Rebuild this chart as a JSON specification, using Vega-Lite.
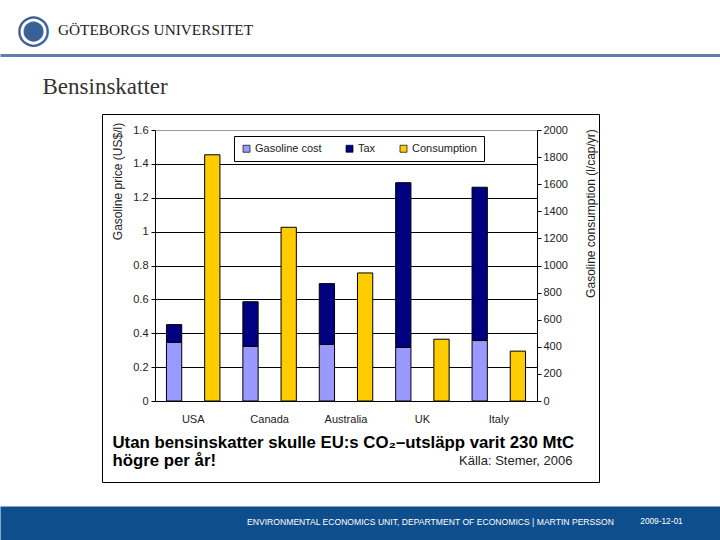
{
  "$schema": "https://vega.github.io/schema/vega-lite/v6.json",
  "width": 497,
  "height": 368,
  "autosize": "none",
  "padding": {"left": 102, "top": 114, "right": 121, "bottom": 58},
  "background": "white",
  "config": {
    "view": {"stroke": "black", "strokeWidth": 1},
    "font": "Liberation Sans",
    "axis": {"labelColor": "#222", "titleColor": "#222", "labelFont": "Liberation Sans", "titleFont": "Liberation Sans"}
  },
  "resolve": {"scale": {"x": "independent"}, "axis": {"x": "independent"}},
  "layer": [
    {
      "data": {
        "values": [
          {"country": "USA", "series": "Gasoline cost", "value": 0.347, "measure": "price"},
          {"country": "USA", "series": "Tax", "value": 0.104, "measure": "price"},
          {"country": "USA", "series": "Consumption", "value": 1817, "measure": "consumption"},
          {"country": "Canada", "series": "Gasoline cost", "value": 0.323, "measure": "price"},
          {"country": "Canada", "series": "Tax", "value": 0.263, "measure": "price"},
          {"country": "Canada", "series": "Consumption", "value": 1282, "measure": "consumption"},
          {"country": "Australia", "series": "Gasoline cost", "value": 0.335, "measure": "price"},
          {"country": "Australia", "series": "Tax", "value": 0.358, "measure": "price"},
          {"country": "Australia", "series": "Consumption", "value": 945, "measure": "consumption"},
          {"country": "UK", "series": "Gasoline cost", "value": 0.316, "measure": "price"},
          {"country": "UK", "series": "Tax", "value": 0.973, "measure": "price"},
          {"country": "UK", "series": "Consumption", "value": 456, "measure": "consumption"},
          {"country": "Italy", "series": "Gasoline cost", "value": 0.357, "measure": "price"},
          {"country": "Italy", "series": "Tax", "value": 0.905, "measure": "price"},
          {"country": "Italy", "series": "Consumption", "value": 368, "measure": "consumption"}
        ]
      },
      "resolve": {"scale": {"y": "independent"}, "axis": {"y": "independent"}},
      "encoding": {
        "x": {
          "field": "country",
          "type": "nominal",
          "sort": ["USA", "Canada", "Australia", "UK", "Italy"],
          "scale": {"range": [53, 435], "paddingInner": 0, "paddingOuter": 0},
          "axis": {
            "orient": "bottom",
            "offset": -81,
            "domainColor": "black",
            "ticks": false,
            "labelAngle": 0,
            "labelPadding": 12,
            "labelFontSize": 11,
            "title": ["Utan bensinskatter skulle EU:s CO₂–utsläpp varit 230 MtC", "högre per år!"],
            "titleFontSize": 16.8,
            "titleFontWeight": "bold",
            "titleColor": "black",
            "titleX": 10,
            "titleY": 46,
            "titleAlign": "left",
            "titleBaseline": "alphabetic",
            "titleLineHeight": 18
          }
        },
        "xOffset": {"field": "measure", "type": "nominal", "scale": {"domain": ["price", "consumption"], "paddingInner": 0.6, "paddingOuter": 0.3}}
      },
      "layer": [
        {
          "transform": [{"filter": "datum.measure == 'price'"}],
          "mark": {"type": "bar", "stroke": "black", "strokeWidth": 1},
          "encoding": {
            "y": {
              "field": "value",
              "type": "quantitative",
              "stack": "zero",
              "scale": {"domain": [0, 1.6], "range": [287, 16], "nice": false},
              "axis": {
                "orient": "left",
                "offset": -53,
                "values": [0, 0.2, 0.4, 0.6, 0.8, 1, 1.2, 1.4, 1.6],
                "format": "~g",
                "grid": true,
                "gridColor": {"condition": {"test": "datum.value >= 1.59", "value": "#999999"}, "value": "black"},
                "gridWidth": 1,
                "domainColor": "black",
                "tickColor": "black",
                "tickSize": 4,
                "labelFontSize": 11,
                "labelPadding": 3,
                "title": "Gasoline price (US$/l)",
                "titleFontSize": 12,
                "titleFontWeight": "normal",
                "titleAngle": -90,
                "titleX": -38,
                "titleY": 67,
                "titleAlign": "center",
                "titleBaseline": "middle"
              }
            },
            "order": {"field": "series", "sort": "ascending"},
            "color": {
              "field": "series",
              "type": "nominal",
              "scale": {"domain": ["Gasoline cost", "Tax", "Consumption"], "range": ["#9999FF", "#000080", "#FFCC00"]},
              "legend": {
                "orient": "none",
                "legendX": 132,
                "legendY": 22,
                "direction": "horizontal",
                "title": null,
                "strokeColor": "black",
                "fillColor": "white",
                "padding": 7,
                "symbolType": "square",
                "symbolSize": 49,
                "symbolStrokeColor": "black",
                "symbolStrokeWidth": 0.7,
                "labelFontSize": 11,
                "labelColor": "#222",
                "labelOffset": 3,
                "columnPadding": 22
              }
            }
          }
        },
        {
          "transform": [{"filter": "datum.measure == 'consumption'"}],
          "mark": {"type": "bar", "stroke": "black", "strokeWidth": 1},
          "encoding": {
            "y": {
              "field": "value",
              "type": "quantitative",
              "scale": {"domain": [0, 2000], "range": [287, 16], "nice": false},
              "axis": {
                "orient": "right",
                "offset": -62,
                "values": [0, 200, 400, 600, 800, 1000, 1200, 1400, 1600, 1800, 2000],
                "format": "d",
                "grid": false,
                "domainColor": "black",
                "tickColor": "black",
                "tickSize": 4,
                "labelFontSize": 11,
                "labelPadding": 2,
                "title": "Gasoline consumption (l/cap/yr)",
                "titleFontSize": 12,
                "titleFontWeight": "normal",
                "titleAngle": -90,
                "titleX": 53,
                "titleY": 99,
                "titleAlign": "center",
                "titleBaseline": "middle"
              }
            },
            "color": {"field": "series", "type": "nominal"}
          }
        }
      ]
    },
    {
      "data": {"values": [{"v": 0}, {"v": 720}]},
      "mark": {"type": "point", "opacity": 0},
      "encoding": {
        "x": {
          "field": "v",
          "type": "quantitative",
          "scale": {"domain": [0, 720], "range": [-102, 618], "nice": false, "zero": false},
          "axis": {
            "orient": "top",
            "offset": 59,
            "domainColor": "#5f80a6",
            "domainWidth": 3,
            "ticks": false,
            "tickSize": 0,
            "grid": false,
            "values": [33, 155],
            "labelExpr": "datum.value < 100 ? '◉' : 'GÖTEBORGS UNIVERSITET'",
            "labelFont": "Liberation Serif",
            "labelFontSize": {"condition": {"test": "datum.value < 100", "value": 40}, "value": 15.3},
            "labelColor": {"condition": {"test": "datum.value < 100", "value": "#3a6098"}, "value": "#222"},
            "labelBaseline": "middle",
            "labelAlign": "center",
            "labelPadding": 26,
            "labelLimit": 1000,
            "labelOverlap": false,
            "labelBound": false,
            "labelFlush": false,
            "title": "Bensinskatter",
            "titleFont": "Liberation Serif",
            "titleFontSize": 23,
            "titleFontWeight": "normal",
            "titleColor": "#333",
            "titleX": -60,
            "titleY": 38,
            "titleAlign": "left",
            "titleBaseline": "alphabetic"
          }
        }
      }
    },
    {
      "data": {"values": [{"v": 0}, {"v": 720}]},
      "mark": {"type": "point", "opacity": 0},
      "encoding": {
        "x": {
          "field": "v",
          "type": "quantitative",
          "scale": {"domain": [0, 720], "range": [-102, 618], "nice": false, "zero": false},
          "axis": {
            "orient": "bottom",
            "offset": 24,
            "domain": false,
            "ticks": true,
            "tickSize": 34,
            "tickCap": "butt",
            "tickColor": "#0f4e8c",
            "tickWidth": {"condition": {"test": "datum.value == 360", "value": 720}, "value": 0},
            "grid": false,
            "values": [360, 430, 661],
            "labelExpr": "datum.value == 360 ? '' : (datum.value < 500 ? 'ENVIRONMENTAL ECONOMICS UNIT, DEPARTMENT OF ECONOMICS  |  MARTIN PERSSON' : '2009-12-01')",
            "labelFontSize": {"condition": {"test": "datum.value < 500", "value": 8.6}, "value": 8.3},
            "labelColor": "white",
            "labelBaseline": "middle",
            "labelAlign": "center",
            "labelPadding": -19,
            "labelLimit": 1000,
            "labelOverlap": false,
            "labelBound": false,
            "labelFlush": false,
            "title": "Källa: Stemer, 2006",
            "titleFontSize": 13,
            "titleFontWeight": "normal",
            "titleColor": "#222",
            "titleX": 470,
            "titleY": -42,
            "titleAlign": "right",
            "titleBaseline": "alphabetic"
          }
        }
      }
    }
  ]
}
